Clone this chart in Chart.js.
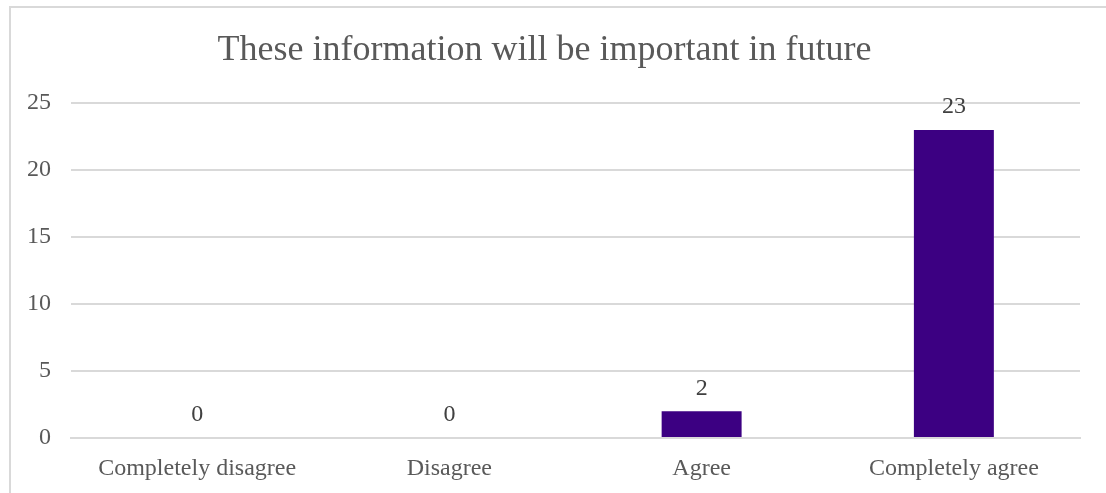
<!DOCTYPE html>
<html>
<head>
<meta charset="utf-8">
<script src="https://cdn.jsdelivr.net/npm/chart.js@4/dist/chart.umd.min.js"></script>
<style>
    html, body { margin: 0; padding: 0; overflow: hidden; background: #fff; }
    #frame { position: absolute; left: 9px; top: 6px; width: 1300px; height: 700px; border: 2px solid #d9d9d9; }
    #wrap { position: absolute; left: 0; top: 0; width: 1106px; height: 493px; }
</style>
</head>
<body>
<div id="frame"></div>
<div id="wrap"><canvas id="myChart"></canvas></div>
<script>
// datos del grafico
const categorias = ['Completely disagree', 'Disagree', 'Agree', 'Completely agree'];
const respuestas = [0, 0, 2, 23];
const titulo = 'These information will be important in future';

// etiquetas de valor arriba de cada barra
const etiquetasValor = {
    id: 'etiquetasValor',
    afterDatasetsDraw(chart) {
        const ctx = chart.ctx;
        ctx.save();
        ctx.font = '24px "Liberation Serif", "Times New Roman", serif';
        ctx.fillStyle = '#404040';
        ctx.textAlign = 'center';
        ctx.textBaseline = 'bottom';
        chart.getDatasetMeta(0).data.forEach((bar, i) => {
            ctx.fillText(String(respuestas[i]), bar.x, bar.y - 11);
        });
        ctx.restore();
    }
};

let myChart = null;
const ctx = document.getElementById('myChart');

myChart = new Chart(ctx, {
    type: 'bar',
    data: {
        labels: categorias,
        datasets: [{
            label: titulo,
            data: respuestas,
            backgroundColor: '#3c0082',
            barPercentage: 0.317,
            categoryPercentage: 1
        }]
    },
    options: {
        responsive: true,
        maintainAspectRatio: false,
        animation: false,
        layout: { padding: { left: 9, right: 26, top: 0, bottom: 0 } },
        plugins: {
            legend: { display: false },
            tooltip: { enabled: false },
            title: {
                display: true,
                text: titulo,
                color: '#595959',
                font: { family: '"Liberation Serif", "Times New Roman", serif', size: 36, weight: 'normal' },
                padding: { top: 29, bottom: 31 }
            }
        },
        scales: {
            x: {
                grid: { display: false },
                border: { color: '#d9d9d9', width: 2 },
                ticks: {
                    color: '#595959',
                    font: { family: '"Liberation Serif", "Times New Roman", serif', size: 24 },
                    padding: 8,
                    maxRotation: 0
                },
                afterFit: function (scale) { scale.height = 55; }
            },
            y: {
                min: 0,
                max: 25,
                ticks: {
                    stepSize: 5,
                    color: '#595959',
                    font: { family: '"Liberation Serif", "Times New Roman", serif', size: 24 },
                    padding: 20
                },
                grid: { color: '#d9d9d9', lineWidth: 2, drawTicks: false },
                border: { display: false },
                afterFit: function (scale) { scale.width = 62; }
            }
        }
    },
    plugins: [etiquetasValor]
});
</script>
</body>
</html>
